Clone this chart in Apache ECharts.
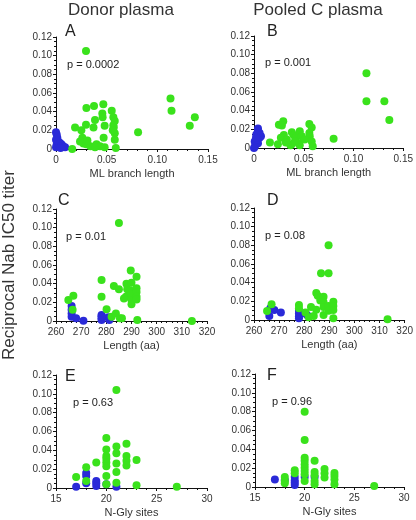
<!DOCTYPE html>
<html>
<head>
<meta charset="utf-8">
<script src="https://cdn.jsdelivr.net/npm/echarts@6/dist/echarts.min.js"></script>
<style>html,body{margin:0;padding:0;background:#fff}#c{width:416px;height:520px}</style>
</head>
<body>
<div id="c"></div>
<script>
// ---- Data ----
var columnTitles = ['Donor plasma', 'Pooled C plasma'];
var panelLetters = ['A', 'B', 'C', 'D', 'E', 'F'];
var pValues = ['p = 0.0002', 'p = 0.001', 'p = 0.01', 'p = 0.08', 'p = 0.63', 'p = 0.96'];
var xNames = ['ML branch length', 'ML branch length', 'Length (aa)', 'Length (aa)', 'N-Gly sites', 'N-Gly sites'];
var yTitle = 'Reciprocal Nab IC50 titer';
var yTicks = [0, 0.02, 0.04, 0.06, 0.08, 0.10, 0.12];
var xTicksML = [0, 0.05, 0.10, 0.15];
var xTicksLen = [260, 270, 280, 290, 300, 310, 320];
var xTicksGly = [15, 20, 25, 30];

var aGreen = [[0.0296,0.105],[0.113,0.054],[0.114,0.041],[0.137,0.034],[0.132,0.025],[0.081,0.018],
  [0.030,0.044],[0.0375,0.046],[0.0467,0.048],[0.055,0.041],[0.0457,0.038],[0.046,0.034],[0.0385,0.031],
  [0.0296,0.026],[0.037,0.023],[0.0566,0.034],[0.058,0.030],[0.0566,0.0255],[0.057,0.023],[0.048,0.025],
  [0.0188,0.023],[0.025,0.020],[0.026,0.012],[0.0237,0.008],[0.027,0.006],[0.030,0.005],[0.034,0.003],
  [0.040,0.005],[0.0434,0.003],[0.047,0.012],[0.058,0.010],[0.016,0.000],[0.0385,0.002],[0.048,0.002],
  [0.059,0.001],[0.058,0.017],[0.056,0.020],[0.031,0.009]];
var aBlue = [[0,0.018],[0.0007,0.0155],[0.0013,0.012],[0.0023,0.008],[0.004,0.0065],[0.0056,0.0047],
  [0.007,0.003],[0.009,0.002],[0.0007,0.0047],[0,0.002],[0.003,0.003],[0.0013,0.009],[0.0045,0.001],[0,0.010]];

var bGreen = [[0.113,0.080],[0.113,0.050],[0.131,0.050],[0.136,0.030],[0.080,0.010],[0.016,0.006],
  [0.024,0.004],[0.025,0.025],[0.0294,0.0286],[0.028,0.024],[0.030,0.014],[0.027,0.011],[0.033,0.009],
  [0.038,0.017],[0.040,0.0136],[0.042,0.011],[0.046,0.018],[0.048,0.0125],[0.038,0.004],[0.045,0.005],
  [0.0366,0.003],[0.0556,0.0257],[0.058,0.022],[0.0556,0.016],[0.056,0.0125],[0.058,0.007],[0.059,0.002],
  [0.046,0.003],[0.041,0.007],[0.032,0.006],[0.051,0.009]];
var bBlue = [[0.004,0.021],[0.004,0.018],[0.0023,0.0145],[0.007,0.0125],[0.0056,0.011],[0.0007,0.007],
  [0.004,0.005],[0.001,0.002],[0,0],[0.0056,0.016],[0.0033,0.009],[0.002,0.011]];

var cGreen = [[285.0,0.105],[264.9,0.0225],[266.9,0.027],[266.6,0.012],[278.1,0.044],[278.1,0.026],
  [280.1,0.0125],[282.1,0.0046],[283.0,0.0375],[285.0,0.034],[283.8,0.008],[285.4,0.003],[286.2,0.003],
  [288,0.040],[288.3,0.034],[287.8,0.026],[289.7,0.054],[290,0.041],[289.4,0.033],[290,0.029],[290,0.0225],
  [290,0.018],[292,0.0475],[292,0.035],[292,0.031],[292,0.026],[292,0.023],[292.3,0.001],[287,0.024],[314,0.0]];
var cBlue = [[266.2,0.016],[266.2,0.012],[266.2,0.008],[266.2,0.0046],[268,0.003],[270.9,0.0004],
  [278.1,0.0064],[278.1,0.003],[280.8,0.004],[281.2,0.001],[278.1,0.001],[278.1,0.005]];

var dGreen = [[289.7,0.080],[286.7,0.050],[289.7,0.050],[265.2,0.0096],[267,0.017],[277.9,0.016],
  [277.9,0.0125],[280.5,0.008],[281.8,0.003],[282.7,0.014],[283.8,0.0043],[284.8,0.029],[285.4,0.026],
  [286.4,0.021],[284.8,0.011],[287.7,0.025],[287.7,0.019],[287.7,0.014],[287.7,0.0054],[289.7,0.015],
  [289.7,0.010],[291.6,0.0196],[291.6,0.015],[291.6,0.0107],[291.6,0.0018],[313.2,0.0007]];
var dBlue = [[266.1,0.0043],[266.5,0.0125],[268.1,0.0107],[270.7,0.008],[277.9,0.010],[277.9,0.007],
  [277.9,0.004],[277.9,0.0018],[280.5,0.007],[281.2,0.005]];

var eGreen = [[21,0.104],[20,0.053],[20,0.041],[20,0.034],[20,0.031],[20,0.027],[20,0.023],[20,0.0127],
  [20,0.004],[21,0.044],[21,0.037],[21,0.026],[21,0.017],[21,0.0057],[22,0.047],[22,0.034],[22,0.029],
  [22,0.024],[23,0.0297],[23,0.0028],[19,0.027],[18,0.022],[18,0.0074],[17,0.0117],[27,0.0014]];
var eBlue = [[17,0.0014],[18,0.016],[18,0.0127],[18,0.005],[19,0.0074],[19,0.005],[19,0.002],[21,0.0014],[20,0.004]];

var fGreen = [[20,0.080],[20,0.050],[20,0.031],[20,0.028],[20,0.024],[20,0.0205],[20,0.017],[20,0.0135],
  [20,0.0064],[21,0.028],[21,0.016],[21,0.0124],[21,0.0064],[21,0.003],[22,0.019],[22,0.0145],[22,0.010],
  [23,0.015],[23,0.0117],[23,0.008],[23,0.003],[19,0.0177],[19,0.0145],[18,0.0106],[18,0.0064],[18,0.004],[27,0.001]];
var fBlue = [[17,0.008],[19,0.0106],[19,0.007],[19,0.0046],[19,0.002],[20,0.0106],[21,0.0106],[18,0.0074]];

// ---- Chart ----
var greenSets = [aGreen, bGreen, cGreen, dGreen, eGreen, fGreen];
var blueSets = [aBlue, bBlue, cBlue, dBlue, eBlue, fBlue];
var xTickSets = [xTicksML, xTicksML, xTicksLen, xTicksLen, xTicksGly, xTicksGly];

var grids = [
  {left: 56, top: 37, width: 152, height: 112},
  {left: 254, top: 36, width: 153, height: 112},
  {left: 56, top: 209, width: 151, height: 112},
  {left: 254, top: 208, width: 153, height: 112},
  {left: 56, top: 375, width: 151, height: 113},
  {left: 255, top: 374, width: 149, height: 113}
];
var FONT = '"Liberation Sans", Arial, Helvetica, sans-serif';
var GREEN = '#3ae21c';
var BLUE = '#2a2ad8';

function fmtX(ticks) {
  return function (v) {
    if (v === 0) return '0';
    return ticks === xTicksML ? v.toFixed(2) : String(v);
  };
}

var xAxes = [], yAxes = [], series = [], graphics = [];
for (var i = 0; i < 6; i++) {
  var t = xTickSets[i];
  xAxes.push({
    gridIndex: i, type: 'value',
    min: t[0], max: t[t.length - 1], interval: t[1] - t[0],
    name: xNames[i], nameLocation: 'middle', nameGap: 19,
    nameTextStyle: {fontFamily: FONT, fontSize: 11, color: '#333'},
    axisLine: {lineStyle: {color: '#111', width: 1}},
    axisTick: {show: true, inside: false, length: 3, lineStyle: {color: '#111'}},
    minorTick: {show: true, splitNumber: 5, length: 2, lineStyle: {color: '#111'}},
    splitLine: {show: false},
    axisLabel: {fontFamily: FONT, fontSize: 10, color: '#333', margin: 6, formatter: fmtX(t)}
  });
  yAxes.push({
    gridIndex: i, type: 'value',
    min: yTicks[0], max: yTicks[yTicks.length - 1], interval: yTicks[1] - yTicks[0],
    axisLine: {show: true, lineStyle: {color: '#111', width: 1}},
    axisTick: {show: true, inside: false, length: 3, lineStyle: {color: '#111'}},
    minorTick: {show: true, splitNumber: 4, length: 2, lineStyle: {color: '#111'}},
    splitLine: {show: false},
    axisLabel: {fontFamily: FONT, fontSize: 10, color: '#333', margin: 4,
      formatter: function (v) { return v === 0 ? '0' : v.toFixed(2); }}
  });
  series.push({
    type: 'scatter', xAxisIndex: i, yAxisIndex: i, data: blueSets[i],
    symbol: 'circle', symbolSize: 8, itemStyle: {color: BLUE, opacity: 1}, silent: true, z: 2
  });
  series.push({
    type: 'scatter', xAxisIndex: i, yAxisIndex: i, data: greenSets[i],
    symbol: 'circle', symbolSize: 8, itemStyle: {color: GREEN, opacity: 1}, silent: true, z: 3
  });
}

var letterPos = [[65, 32], [267, 32], [58, 201], [267, 201], [65, 377], [267, 376]];
var pPos = [[67, 65], [265, 63], [66, 237], [265, 236], [73, 403], [272, 402]];
for (var j = 0; j < 6; j++) {
  graphics.push({type: 'text', x: letterPos[j][0], y: letterPos[j][1],
    style: {text: panelLetters[j], font: '16px ' + FONT, fill: '#222', textVerticalAlign: 'middle'}});
  graphics.push({type: 'text', x: pPos[j][0], y: pPos[j][1],
    style: {text: pValues[j], font: '11px ' + FONT, fill: '#222', textVerticalAlign: 'middle'}});
}
graphics.push({type: 'text', x: 121, y: 10,
  style: {text: columnTitles[0], font: '17px ' + FONT, fill: '#333', textAlign: 'center', textVerticalAlign: 'middle'}});
graphics.push({type: 'text', x: 318, y: 10,
  style: {text: columnTitles[1], font: '17px ' + FONT, fill: '#333', textAlign: 'center', textVerticalAlign: 'middle'}});
graphics.push({type: 'text', x: 9, y: 265, rotation: Math.PI / 2,
  style: {text: yTitle, font: '17px ' + FONT, fill: '#333', textAlign: 'center', textVerticalAlign: 'middle'}});

var chart = echarts.init(document.getElementById('c'), null, {renderer: 'canvas'});
chart.setOption({
  animation: false,
  backgroundColor: '#fff',
  grid: grids,
  xAxis: xAxes,
  yAxis: yAxes,
  series: series,
  graphic: graphics
});
</script>
</body>
</html>
